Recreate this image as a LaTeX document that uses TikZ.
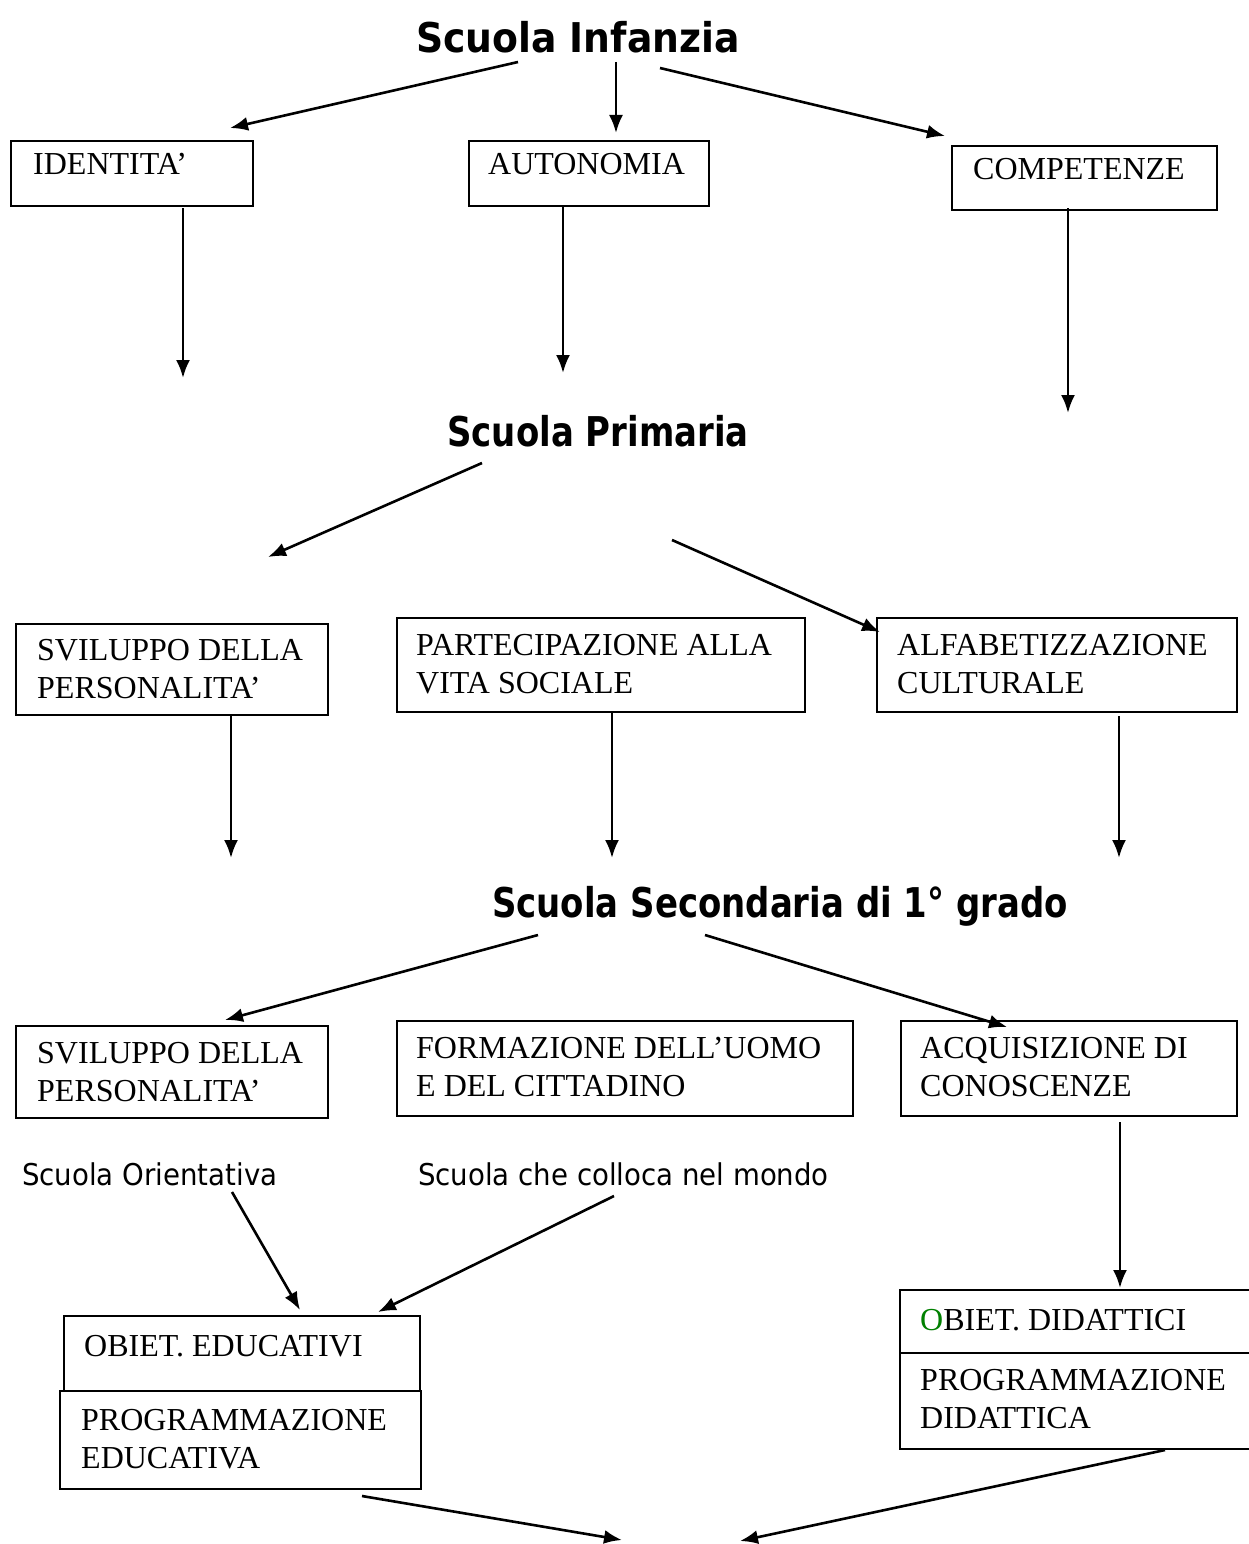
\documentclass[tikz,border=0pt]{standalone}
\usepackage{fontspec}
\setmainfont{Liberation Serif}
\newfontfamily\tahfont[FakeStretch=0.92]{DejaVu Sans}
\usetikzlibrary{arrows.meta}
\definecolor{wordgreen}{HTML}{008000}
\begin{document}
\begin{tikzpicture}[x=1pt,y=-1pt,
  box/.style={draw,line width=2.2pt,inner sep=0pt,anchor=north west},
  boxtext/.style={anchor=north west,inner sep=0pt,align=left,
    font=\fontsize{32}{38}\selectfont},
  level/.style={anchor=base,inner sep=0pt,font=\tahfont\bfseries\fontsize{41}{48}\selectfont},
  note/.style={anchor=base west,inner sep=0pt,font=\tahfont\fontsize{30}{36}\selectfont},
  arr/.style={line width=2.6pt,-{Latex[length=18pt,width=14pt]}}]
\useasboundingbox[fill=white] (0,0) rectangle (1249,1544);

% text lines in the boxes: first baseline given, strut sets the cap top
\newcommand{\firstline}{\rule{0pt}{22pt}}

% ---- school levels
\node[level] (infanzia) at (578,53) {Scuola Infanzia};
\node[level] (primaria) at (598,446) {\scalebox{0.9}[1]{Scuola Primaria}};
\node[level] (secondaria) at (780,917) {\scalebox{0.9}[1]{Scuola Secondaria di 1° grado}};

% ---- first row of boxes
\node[box,minimum width=242pt,minimum height=65pt] (identita) at (10,140) {};
\node[boxtext] (identitaT) at (33,152) {\firstline IDENTITA’};
\node[box,minimum width=240pt,minimum height=65pt] (autonomia) at (468,140) {};
\node[boxtext] (autonomiaT) at (488,152) {\firstline AUTONOMIA};
\node[box,minimum width=265pt,minimum height=64pt] (competenze) at (951,145) {};
\node[boxtext] (competenzeT) at (973,157) {\firstline COMPETENZE};

% ---- second row of boxes
\node[box,minimum width=312pt,minimum height=91pt] (svilA) at (15,623) {};
\node[boxtext] (svilAT) at (37,638) {\firstline SVILUPPO DELLA\\PERSONALITA’};
\node[box,minimum width=408pt,minimum height=94pt] (partec) at (396,617) {};
\node[boxtext] (partecT) at (416,633) {\firstline PARTECIPAZIONE ALLA\\VITA SOCIALE};
\node[box,minimum width=360pt,minimum height=94pt] (alfab) at (876,617) {};
\node[boxtext] (alfabT) at (897,633) {\firstline ALFABETIZZAZIONE\\CULTURALE};

% ---- third row of boxes
\node[box,minimum width=312pt,minimum height=92pt] (svilB) at (15,1025) {};
\node[boxtext] (svilBT) at (37,1041) {\firstline SVILUPPO DELLA\\PERSONALITA’};
\node[box,minimum width=456pt,minimum height=95pt] (formaz) at (396,1020) {};
\node[boxtext] (formazT) at (416,1036) {\firstline FORMAZIONE DELL’UOMO\\E DEL CITTADINO};
\node[box,minimum width=336pt,minimum height=95pt] (acquis) at (900,1020) {};
\node[boxtext] (acquisT) at (920,1036) {\firstline ACQUISIZIONE DI\\CONOSCENZE};

% ---- free labels
\node[note] (orient) at (22,1185) {Scuola Orientativa};
\node[note] (colloca) at (418,1185) {Scuola che colloca nel mondo};

% ---- objectives and programmes
\node[box,minimum width=356pt,minimum height=75pt] (obEdu) at (63,1315) {};
\node[boxtext] (obEduT) at (84,1334) {\firstline OBIET. EDUCATIVI};
\node[box,minimum width=361pt,minimum height=98pt] (prEdu) at (59,1390) {};
\node[boxtext] (prEduT) at (81,1408) {\firstline PROGRAMMAZIONE\\EDUCATIVA};
\node[box,minimum width=360pt,minimum height=63pt] (obDid) at (899,1289) {};
\node[boxtext] (obDidT) at (920,1308) {\firstline{\color{wordgreen}O}BIET. DIDATTICI};
\node[box,minimum width=360pt,minimum height=96pt] (prDid) at (899,1352) {};
\node[boxtext] (prDidT) at (920,1368) {\firstline PROGRAMMAZIONE\\DIDATTICA};

% ---- connector end points
\coordinate (s1) at (518,62);   \coordinate (e1) at (230,128);
\coordinate (s2) at (616,62);   \coordinate (e2) at (616,133);
\coordinate (s3) at (660,68);   \coordinate (e3) at (945,136);
\coordinate (s4) at (183,208);  \coordinate (e4) at (183,378);
\coordinate (s5) at (563,205);  \coordinate (e5) at (563,373);
\coordinate (s6) at (1068,208); \coordinate (e6) at (1068,413);
\coordinate (s7) at (482,463);  \coordinate (e7) at (268,557);
\coordinate (s8) at (672,540);  \coordinate (e8) at (880,632);
\coordinate (s9) at (231,716);  \coordinate (e9) at (231,858);
\coordinate (s10) at (612,711); \coordinate (e10) at (612,858);
\coordinate (s11) at (1119,716);\coordinate (e11) at (1119,858);
\coordinate (s12) at (538,935); \coordinate (e12) at (225,1020);
\coordinate (s13) at (705,935); \coordinate (e13) at (1007,1027);
\coordinate (s14) at (232,1192);\coordinate (e14) at (300,1310);
\coordinate (s15) at (614,1196);\coordinate (e15) at (378,1312);
\coordinate (s16) at (1120,1122);\coordinate (e16) at (1120,1288);
\coordinate (s17) at (362,1496);\coordinate (e17) at (622,1540);
\coordinate (s18) at (1165,1450);\coordinate (e18) at (740,1541);

% ---- connectors
\foreach \i in {1,...,18} {\draw[arr] (s\i) -- (e\i);}
\end{tikzpicture}
\end{document}
